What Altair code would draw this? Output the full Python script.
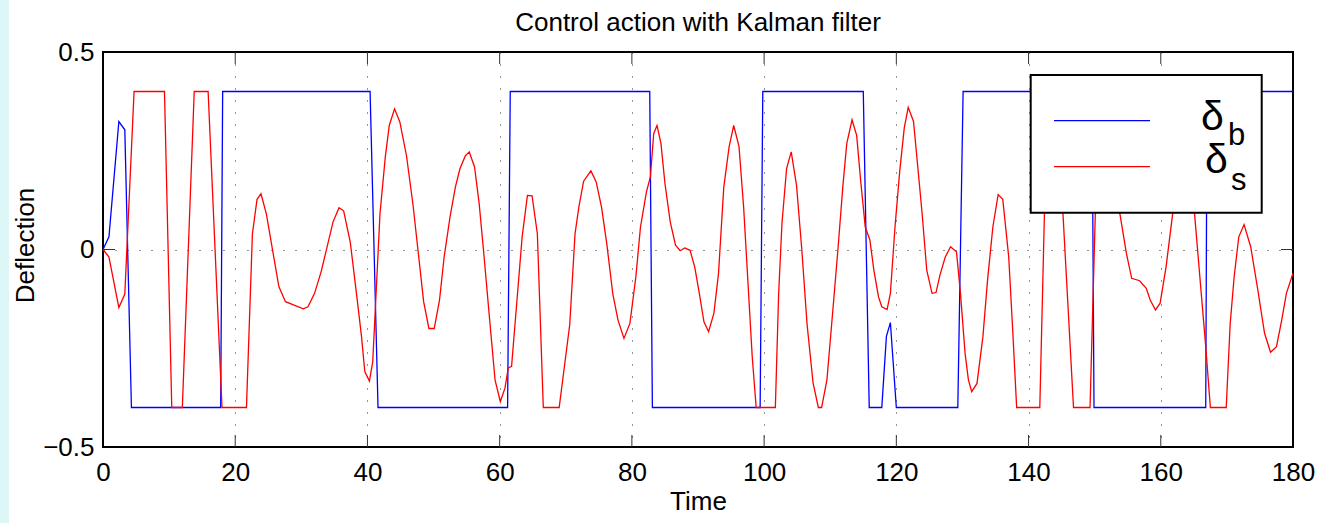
import altair as alt
import pandas as pd

# ---------------- data ----------------
blue_t = [0, 0.9, 2.4, 3.3, 4.3, 17.8, 18.1, 40.4, 41.6, 61.2, 61.6, 82.7, 83.1,
          99.4, 99.8, 115.0, 115.9, 117.8, 118.5, 119.1, 120.0, 129.3, 130.1,
          149.6, 149.9, 166.8, 167.0, 180.0]
blue_v = [0, 0.032, 0.324, 0.303, -0.4, -0.4, 0.4, 0.4, -0.4, -0.4, 0.4, 0.4, -0.4,
          -0.4, 0.4, 0.4, -0.4, -0.4, -0.22, -0.185, -0.4, -0.4, 0.4,
          0.4, -0.4, -0.4, 0.4, 0.4]

red_t = [0, 0.9, 2.4, 3.3, 4.7, 9.3, 10.4, 12.0, 13.8, 15.9, 18.0, 21.7,
         22.6, 23.3, 23.9, 24.7, 26.6, 27.6, 30.3, 31.0, 32.0, 33.0, 34.8, 35.7,
         36.4, 37.4, 38.4, 39.1, 39.6, 40.3, 40.8, 41.9, 42.7, 43.3, 44.1, 44.9,
         45.9, 46.9, 47.7, 48.5, 49.3, 50.1, 50.9, 51.6, 52.5, 53.3, 54.0, 54.8,
         55.4, 56.2, 56.9, 57.6, 58.4, 59.3, 60.1, 60.8, 61.3, 61.8, 63.4, 64.2,
         64.9, 65.7, 66.6, 69.0, 70.6, 71.4, 72.0, 72.7, 73.8, 74.6, 75.4, 76.2,
         77.1, 77.9, 78.8, 79.7, 80.6, 81.3, 82.2, 82.8, 83.3, 83.8, 84.4, 85.0,
         85.8, 86.6, 87.3, 88.0, 88.8, 89.5, 90.2, 90.9, 91.6, 92.4, 93.1, 93.9,
         94.7, 95.4, 96.2, 96.9, 98.2, 98.8, 101.7, 102.2, 102.7, 103.4, 104.1,
         104.9, 105.7, 106.5, 107.4, 108.2, 108.7, 109.5, 110.4, 111.2, 111.9,
         112.5, 113.3, 114.0, 114.6, 115.3, 116.0, 116.6, 117.3, 117.8, 118.6,
         119.1, 119.8, 120.5, 121.2, 121.8, 122.6, 123.2, 123.9, 124.6, 125.4,
         126.0, 126.6, 127.4, 128.2, 129.1, 129.7, 130.4, 130.9, 131.4, 132.2,
         133.1, 133.8, 134.6, 135.4, 136.1, 137.0, 137.6, 138.2, 141.7, 142.4,
         143.5, 144.4, 145.2, 146.8, 149.3, 150.1, 151.3, 152.3, 153.8, 154.8,
         155.6, 156.8, 157.8, 158.4, 159.2, 159.9, 160.8, 161.8, 163.3, 165.1,
         166.8, 167.5, 169.9, 170.5, 171.1, 171.8, 172.6, 173.6, 174.6, 175.7,
         176.6, 177.5, 178.3, 179.0, 180.0]
red_v = [0, -0.019, -0.147, -0.113, 0.4, 0.4, -0.4, -0.4, 0.4, 0.4, -0.4, -0.4,
         0.04, 0.127, 0.141, 0.091, -0.094, -0.132, -0.15, -0.145, -0.111, -0.056, 0.07, 0.106,
         0.098, 0.019, -0.12, -0.22, -0.309, -0.333, -0.284, 0.091, 0.234, 0.314, 0.356, 0.323,
         0.238, 0.112, -0.01, -0.132, -0.2, -0.2, -0.128, -0.019, 0.083, 0.158, 0.205, 0.237,
         0.247, 0.209, 0.116, -0.01, -0.162, -0.33, -0.385, -0.351, -0.3, -0.296, 0.032, 0.137,
         0.136, 0.04, -0.4, -0.4, -0.19, 0.04, 0.11, 0.173, 0.199, 0.171, 0.108, 0.015,
         -0.111, -0.179, -0.225, -0.187, -0.069, 0.057, 0.146, 0.184, 0.293, 0.314, 0.268, 0.167,
         0.07, 0.011, -0.003, 0.004, -0.002, -0.044, -0.111, -0.183, -0.208, -0.162, -0.061, 0.158,
         0.259, 0.314, 0.261, 0.108, -0.271, -0.4, -0.4, -0.111, 0.066, 0.205, 0.247,
         0.163, 0.0, -0.19, -0.337, -0.4, -0.4, -0.33, -0.153, 0.007, 0.158,
         0.268, 0.328, 0.289, 0.175, 0.057, 0.024, -0.052, -0.12, -0.145, -0.152,
         -0.111, 0.057, 0.196, 0.308, 0.36, 0.324, 0.217, 0.091, -0.052, -0.111,
         -0.109, -0.065, -0.019, 0.007, -0.006, -0.111, -0.263, -0.33, -0.36, -0.339,
         -0.22, -0.077, 0.057, 0.139, 0.127, -0.019, -0.204, -0.4, -0.4, 0.09,
         0.35, 0.33, 0.092, -0.4, -0.4, 0.092, 0.32, 0.3, 0.092, -0.01,
         -0.073, -0.079, -0.098, -0.128, -0.153, -0.136, -0.044, 0.091, 0.34, 0.092,
         -0.246, -0.4, -0.4, -0.187, -0.069, 0.032, 0.063, 0.007, -0.094, -0.212,
         -0.26, -0.246, -0.178, -0.111, -0.06]

x_tick_values = [0, 20, 40, 60, 80, 100, 120, 140, 160, 180]
y_tick_values = [-0.5, 0, 0.5]
inner_x_ticks = [20, 40, 60, 80, 100, 120, 140, 160]
inner_y_ticks = [0]

title_text = "Control action with Kalman filter"
x_title = "Time"
y_title = "Deflection"

# ---------------- layout ----------------
W, H = 1190, 395
FONT = "Liberation Sans"
FS = 26

x_scale = alt.Scale(domain=[0, 180], nice=False, zero=False)
y_scale = alt.Scale(domain=[-0.5, 0.5], nice=False, zero=False)

blue_df = pd.DataFrame({"t": blue_t, "v": blue_v, "i": range(len(blue_t))})
red_df = pd.DataFrame({"t": red_t, "v": red_v, "i": range(len(red_t))})
one = pd.DataFrame({"a": [0]})

x_axis = alt.Axis(values=x_tick_values, format="d", ticks=False, tickSize=0, domain=False,
                  grid=True, gridDash=[1, 11], gridColor="#000000", gridOpacity=0.85, gridWidth=1,
                  labelFont=FONT, labelFontSize=FS, labelColor="black", labelPadding=33,
                  labelBaseline="alphabetic", labelFlush=False, labelOverlap=False,
                  title=x_title, titleFont=FONT, titleFontSize=FS, titleFontWeight="normal",
                  titleColor="black", titleX=W / 2, titleY=62, titleAlign="center",
                  titleBaseline="alphabetic")
y_axis = alt.Axis(values=y_tick_values, format=".1~f", ticks=False, tickSize=0, domain=False,
                  grid=True, gridDash=[1, 11], gridColor="#000000", gridOpacity=0.85, gridWidth=1,
                  labelFont=FONT, labelFontSize=FS, labelColor="black", labelPadding=9,
                  labelBaseline="middle", labelFlush=False, labelOverlap=False,
                  title=y_title, titleFont=FONT, titleFontSize=FS, titleFontWeight="normal",
                  titleColor="black", titleX=-70, titleY=193, titleAngle=270,
                  titleAlign="center", titleBaseline="alphabetic")

X = lambda f: alt.X(f, scale=x_scale, axis=x_axis)
Y = lambda f: alt.Y(f, scale=y_scale, axis=y_axis)

strip = alt.Chart(one).mark_rect(fill="#ddf6f6").encode(
    x=alt.value(-103), x2=alt.value(-94), y=alt.value(-52), y2=alt.value(471))

blue = alt.Chart(blue_df).mark_line(color="#0000ff", strokeWidth=1.3).encode(
    x=X("t:Q"), y=Y("v:Q"), order="i:Q")

red = alt.Chart(red_df).mark_line(color="#ff0000", strokeWidth=1.3).encode(
    x=X("t:Q"), y=Y("v:Q"), order="i:Q")

xt_df = pd.DataFrame({"t": inner_x_ticks})
yt_df = pd.DataFrame({"v": inner_y_ticks})
tick_style = dict(color="#333333", strokeWidth=1)
bottom_ticks = alt.Chart(xt_df).mark_rule(**tick_style).encode(
    x=X("t:Q"), y=alt.value(H), y2=alt.value(H - 12))
top_ticks = alt.Chart(xt_df).mark_rule(**tick_style).encode(
    x=X("t:Q"), y=alt.value(0), y2=alt.value(12))
left_ticks = alt.Chart(yt_df).mark_rule(**tick_style).encode(
    y=Y("v:Q"), x=alt.value(0), x2=alt.value(12))
right_ticks = alt.Chart(yt_df).mark_rule(**tick_style).encode(
    y=Y("v:Q"), x=alt.value(W), x2=alt.value(W - 12))

title = alt.Chart(one).mark_text(font=FONT, fontSize=FS, align="center",
                                 baseline="alphabetic", color="black").encode(
    x=alt.value(W / 2), y=alt.value(-21), text=alt.value(title_text))

# legend drawn by hand (subscripted labels)
legend_box = alt.Chart(one).mark_rect(fill="white", stroke="black", strokeWidth=2).encode(
    x=alt.value(927.7), x2=alt.value(1158.7), y=alt.value(23), y2=alt.value(160.7))
leg_blue = alt.Chart(one).mark_rule(color="#0000ff", strokeWidth=1.3).encode(
    x=alt.value(951), x2=alt.value(1047), y=alt.value(68.7))
leg_red = alt.Chart(one).mark_rule(color="#ff0000", strokeWidth=1.3).encode(
    x=alt.value(951), x2=alt.value(1047), y=alt.value(114.7))


def txt(s, x, y, size):
    return alt.Chart(one).mark_text(font=FONT, fontSize=size, align="left",
                                    baseline="alphabetic", color="black").encode(
        x=alt.value(x), y=alt.value(y), text=alt.value(s))


leg_texts = [txt("δ", 1098, 78, 41), txt("b", 1125, 93, 31),
             txt("δ", 1102, 121, 41), txt("s", 1128, 138, 31)]

chart = alt.layer(strip, blue, red, bottom_ticks, top_ticks, left_ticks, right_ticks,
                  legend_box, leg_blue, leg_red, *leg_texts, title).properties(
    width=W, height=H,
    autosize=alt.AutoSizeParams(type="none"),
    padding={"left": 103, "top": 52, "right": 28, "bottom": 76},
    background="white",
).configure_view(stroke="black", strokeWidth=2)

chart.save("out.html", embed_options={"renderer": "svg", "actions": False})
